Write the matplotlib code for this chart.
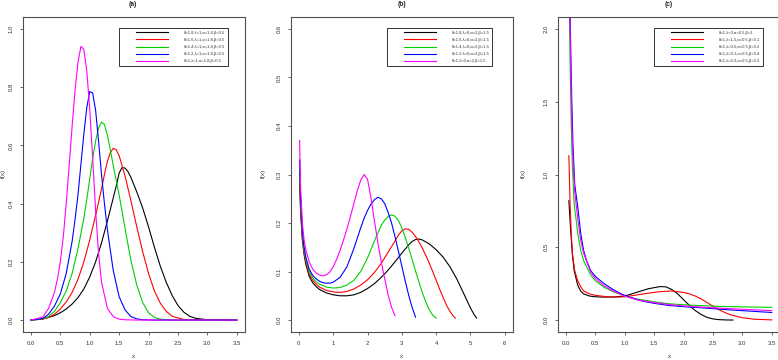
import matplotlib
matplotlib.use("Agg")
import matplotlib.pyplot as plt
from matplotlib.legend_handler import HandlerLine2D

plt.rcParams["font.family"] = ["Liberation Sans", "DejaVu Sans"]

colors = ["black", "red", "#00d000", "blue", "magenta"]

# ---- panel (a)
a_labels = ["θ=1.8,λ=1,α=1.8,β=0.5", "θ=1.6,λ=1,α=1.8,β=0.5", "θ=1.4,λ=1,α=1.8,β=0.5",
            "θ=1.2,λ=1,α=1.8,β=0.5", "θ=1,λ=1,α=1.8,β=0.5"]
a_x_black = [0, 0.2, 0.4, 0.5, 0.6, 0.7, 0.8, 0.9, 1.0, 1.1, 1.2, 1.3, 1.4, 1.45, 1.5, 1.55, 1.6,
             1.65, 1.7, 1.8, 1.9, 2.0, 2.1, 2.2, 2.3, 2.4, 2.5, 2.6, 2.7, 2.8, 3.0, 3.5]
a_y_black = [0, 0.004, 0.015, 0.025, 0.038, 0.055, 0.077, 0.107, 0.148, 0.2, 0.265, 0.34, 0.42, 0.46,
             0.505, 0.524, 0.522, 0.51, 0.49, 0.44, 0.385, 0.32, 0.25, 0.185, 0.13, 0.085, 0.05,
             0.027, 0.013, 0.006, 0.001, 0]
a_x_red = [0, 0.2, 0.3, 0.4, 0.5, 0.6, 0.7, 0.8, 0.9, 1.0, 1.1, 1.2, 1.25, 1.3, 1.35, 1.4, 1.45, 1.5,
           1.6, 1.7, 1.8, 1.9, 2.0, 2.1, 2.2, 2.3, 2.4, 2.6, 3.5]
a_y_red = [0, 0.003, 0.009, 0.02, 0.038, 0.062, 0.095, 0.14, 0.2, 0.275, 0.36, 0.45, 0.5, 0.545, 0.575,
           0.59, 0.585, 0.565, 0.495, 0.41, 0.32, 0.235, 0.16, 0.1, 0.058, 0.03, 0.013, 0.002, 0]
a_x_green = [0, 0.2, 0.3, 0.4, 0.5, 0.6, 0.7, 0.8, 0.9, 0.95, 1.0, 1.05, 1.1, 1.15, 1.2, 1.25, 1.3,
             1.35, 1.4, 1.5, 1.6, 1.7, 1.8, 1.9, 2.0, 2.1, 2.2, 2.4, 3.5]
a_y_green = [0, 0.004, 0.012, 0.03, 0.06, 0.1, 0.16, 0.245, 0.35, 0.415, 0.485, 0.555, 0.615, 0.66,
             0.68, 0.672, 0.635, 0.585, 0.53, 0.43, 0.315, 0.205, 0.12, 0.06, 0.025, 0.009, 0.003, 0, 0]
a_x_blue = [0, 0.2, 0.3, 0.4, 0.5, 0.6, 0.7, 0.75, 0.8, 0.85, 0.9, 0.95, 1.0, 1.05, 1.1, 1.15, 1.2,
            1.25, 1.3, 1.4, 1.5, 1.6, 1.7, 1.8, 1.9, 2.1, 3.5]
a_y_blue = [0, 0.005, 0.02, 0.048, 0.09, 0.16, 0.27, 0.345, 0.43, 0.535, 0.64, 0.73, 0.785, 0.78,
            0.72, 0.615, 0.5, 0.4, 0.31, 0.17, 0.08, 0.035, 0.012, 0.004, 0.001, 0, 0]
a_x_magenta = [0, 0.2, 0.3, 0.4, 0.45, 0.5, 0.55, 0.6, 0.65, 0.7, 0.75, 0.8, 0.85, 0.9, 0.95, 1.0,
               1.05, 1.1, 1.15, 1.2, 1.3, 1.4, 1.5, 1.6, 1.8, 3.5]
a_y_magenta = [0, 0.01, 0.04, 0.095, 0.14, 0.2, 0.285, 0.4, 0.53, 0.665, 0.79, 0.885, 0.94, 0.93,
               0.855, 0.725, 0.555, 0.375, 0.23, 0.13, 0.04, 0.012, 0.003, 0.001, 0, 0]
a_xticks = [0.0, 0.5, 1.0, 1.5, 2.0, 2.5, 3.0, 3.5]
a_yticks = [0.0, 0.2, 0.4, 0.6, 0.8, 1.0]

# ---- panel (b)
b_labels = ["θ=1.8,λ=0,α=2,β=1.5", "θ=1.6,λ=0,α=2,β=1.5", "θ=1.4,λ=0,α=2,β=1.5",
            "θ=1.2,λ=0,α=2,β=1.5", "θ=1,λ=0,α=2,β=1.5"]
b_x_black = [0.02, 0.05, 0.1, 0.15, 0.2, 0.3, 0.4, 0.5, 0.6, 0.8, 1.0, 1.2, 1.4, 1.6, 1.8, 2.0, 2.2,
             2.4, 2.6, 2.8, 3.0, 3.2, 3.3, 3.4, 3.5, 3.6, 3.8, 4.0, 4.2, 4.4, 4.6, 4.8, 5.0, 5.1, 5.18]
b_y_black = [0.28, 0.22, 0.165, 0.135, 0.115, 0.09, 0.077, 0.069, 0.063, 0.056, 0.052, 0.05, 0.05,
             0.052, 0.057, 0.065, 0.075, 0.088, 0.103, 0.12, 0.138, 0.155, 0.162, 0.166, 0.167, 0.165,
             0.157, 0.145, 0.13, 0.11, 0.085, 0.055, 0.025, 0.012, 0.004]
b_x_red = [0.02, 0.05, 0.1, 0.15, 0.2, 0.3, 0.4, 0.5, 0.6, 0.8, 1.0, 1.2, 1.4, 1.6, 1.8, 2.0, 2.2, 2.4,
           2.6, 2.8, 2.9, 3.0, 3.1, 3.2, 3.3, 3.4, 3.5, 3.6, 3.7, 3.8, 3.9, 4.0, 4.1, 4.2, 4.3, 4.4,
           4.5, 4.56]
b_y_red = [0.3, 0.23, 0.17, 0.14, 0.12, 0.095, 0.082, 0.074, 0.068, 0.061, 0.058, 0.057, 0.059, 0.064,
           0.072, 0.083, 0.098, 0.117, 0.14, 0.163, 0.175, 0.184, 0.188, 0.187, 0.181, 0.172, 0.161,
           0.148, 0.133, 0.117, 0.1, 0.082, 0.064, 0.047, 0.031, 0.018, 0.008, 0.004]
b_x_green = [0.02, 0.05, 0.1, 0.15, 0.2, 0.3, 0.4, 0.5, 0.6, 0.8, 1.0, 1.2, 1.4, 1.6, 1.8, 2.0, 2.2,
             2.4, 2.5, 2.6, 2.7, 2.8, 2.9, 3.0, 3.1, 3.2, 3.3, 3.4, 3.5, 3.6, 3.7, 3.8, 3.9, 4.0]
b_y_green = [0.31, 0.24, 0.18, 0.145, 0.125, 0.1, 0.087, 0.079, 0.074, 0.068, 0.066, 0.067, 0.072,
             0.082, 0.1, 0.128, 0.163, 0.195, 0.206, 0.213, 0.217, 0.214, 0.205, 0.19, 0.17, 0.148,
             0.125, 0.101, 0.078, 0.056, 0.037, 0.021, 0.01, 0.004]
b_x_blue = [0.02, 0.05, 0.1, 0.15, 0.2, 0.3, 0.4, 0.5, 0.6, 0.7, 0.8, 0.9, 1.0, 1.2, 1.4, 1.6, 1.8, 1.9,
            2.0, 2.1, 2.2, 2.3, 2.4, 2.5, 2.6, 2.7, 2.8, 2.9, 3.0, 3.1, 3.2, 3.3, 3.4]
b_y_blue = [0.33, 0.25, 0.185, 0.15, 0.13, 0.105, 0.092, 0.085, 0.08, 0.077, 0.076, 0.076, 0.078,
            0.088, 0.11, 0.147, 0.19, 0.21, 0.226, 0.239, 0.248, 0.253, 0.25, 0.24, 0.222, 0.2, 0.172,
            0.142, 0.111, 0.08, 0.051, 0.026, 0.006]
b_x_magenta = [0.02, 0.05, 0.1, 0.15, 0.2, 0.3, 0.4, 0.5, 0.6, 0.7, 0.8, 0.9, 1.0, 1.1, 1.2, 1.3, 1.4,
               1.5, 1.6, 1.7, 1.8, 1.9, 2.0, 2.1, 2.2, 2.3, 2.4, 2.5, 2.6, 2.7, 2.8]
b_y_magenta = [0.37, 0.27, 0.2, 0.165, 0.145, 0.12, 0.105, 0.097, 0.093, 0.091, 0.093, 0.099, 0.11,
               0.125, 0.144, 0.165, 0.188, 0.213, 0.24, 0.266, 0.288, 0.3, 0.29, 0.252, 0.205, 0.16,
               0.12, 0.085, 0.052, 0.026, 0.009]
b_xticks = [0, 1, 2, 3, 4, 5, 6]
b_yticks = [0.0, 0.1, 0.2, 0.3, 0.4, 0.5, 0.6]

# ---- panel (c)
c_labels = ["θ=1,λ=0,α=0.5,β=1", "θ=1,λ=1.5,α=0.5,β=0.1", "θ=1,λ=0.5,α=0.5,β=0.2",
            "θ=1,λ=0.1,α=0.5,β=0.4", "θ=1,λ=0.3,α=0.5,β=0.3"]
c_x_black = [0.05, 0.08, 0.11, 0.14, 0.2, 0.25, 0.3, 0.4, 0.5, 0.6, 0.8, 1.0, 1.2, 1.4, 1.6, 1.7, 1.8,
             1.9, 2.0, 2.1, 2.2, 2.3, 2.4, 2.5, 2.6, 2.7, 2.84]
c_y_black = [0.82, 0.62, 0.45, 0.34, 0.24, 0.2, 0.18, 0.165, 0.16, 0.158, 0.158, 0.165, 0.19, 0.215,
             0.23, 0.228, 0.21, 0.18, 0.14, 0.1, 0.065, 0.038, 0.018, 0.008, 0.003, 0.001, 0]
c_x_red = [0.05, 0.07, 0.09, 0.11, 0.15, 0.2, 0.25, 0.3, 0.4, 0.5, 0.7, 0.9, 1.0, 1.2, 1.4, 1.6, 1.8,
           2.0, 2.1, 2.2, 2.3, 2.4, 2.5, 2.6, 2.7, 2.8, 3.0, 3.2, 3.5]
c_y_red = [1.13, 0.8, 0.6, 0.46, 0.34, 0.27, 0.23, 0.2, 0.18, 0.17, 0.16, 0.158, 0.16, 0.172, 0.185,
           0.195, 0.2, 0.19, 0.18, 0.165, 0.145, 0.12, 0.095, 0.072, 0.052, 0.036, 0.016, 0.006, 0.001]
c_x_green = [0.05, 0.07, 0.09, 0.11, 0.14, 0.2, 0.25, 0.3, 0.42, 0.5, 0.65, 0.8, 1.0, 1.2, 1.5, 1.75,
             2.0, 2.35, 2.7, 3.1, 3.5]
c_y_green = [2.4, 1.8, 1.35, 1.05, 0.8, 0.6, 0.48, 0.41, 0.31, 0.27, 0.225, 0.195, 0.165, 0.145, 0.125,
             0.112, 0.105, 0.098, 0.093, 0.09, 0.087]
c_x_blue = [0.06, 0.08, 0.1, 0.12, 0.15, 0.2, 0.25, 0.3, 0.35, 0.42, 0.5, 0.65, 0.8, 0.94, 1.1, 1.3,
            1.5, 1.75, 2.0, 2.35, 2.7, 3.1, 3.5]
c_y_blue = [2.4, 1.9, 1.5, 1.2, 0.93, 0.78, 0.6, 0.48, 0.41, 0.34, 0.3, 0.25, 0.21, 0.18, 0.155, 0.13,
            0.115, 0.1, 0.092, 0.083, 0.072, 0.062, 0.052]
c_x_magenta = [0.06, 0.08, 0.1, 0.12, 0.15, 0.2, 0.25, 0.3, 0.42, 0.5, 0.65, 0.8, 1.0, 1.2, 1.5, 1.75,
               2.0, 2.35, 2.7, 3.1, 3.5]
c_y_magenta = [2.3, 1.75, 1.35, 1.1, 0.88, 0.7, 0.55, 0.46, 0.33, 0.285, 0.235, 0.2, 0.165, 0.14, 0.12,
               0.107, 0.097, 0.088, 0.08, 0.072, 0.065]
c_xticks = [0.0, 0.5, 1.0, 1.5, 2.0, 2.5, 3.0, 3.5]
c_yticks = [0.0, 0.5, 1.0, 1.5, 2.0]

W, H = 778, 360
fig = plt.figure(figsize=(W / 100, H / 100), dpi=100)
frame_col = "#505050"


def panel(left, xs, ys, labels, xlim, ylim, xticks, yticks, xfmt, yfmt):
    ax = fig.add_axes([left / W, 1 - 331.7 / H, 222.3 / W, 314.4 / H])
    for x, y, c, lab in zip(xs, ys, colors, labels):
        ax.plot(x, y, color=c, lw=0.8, label=lab)
    ax.set_xlim(*xlim)
    ax.set_ylim(*ylim)
    ax.set_xticks(xticks, [xfmt.format(v) for v in xticks])
    ax.set_yticks(yticks, [yfmt.format(v) for v in yticks])
    ax.tick_params(axis="both", length=2.4, width=0.6, color=frame_col, labelsize=4.3,
                   labelcolor="#333333", pad=4)
    for lab in ax.get_yticklabels():
        lab.set_rotation(90)
        lab.set_va("center")
    for s in ax.spines.values():
        s.set_color(frame_col)
        s.set_linewidth(0.8)
    leg = ax.legend(loc="upper left", bbox_to_anchor=(0.435, 0.965), borderaxespad=0,
                    fontsize=3, frameon=True, fancybox=False, edgecolor="#333333",
                    framealpha=1, borderpad=0.6, handlelength=14.3, handletextpad=0.55,
                    labelspacing=0.75, numpoints=2,
                    handler_map={plt.Line2D: HandlerLine2D(marker_pad=3.3, numpoints=2)})
    leg.get_frame().set_linewidth(0.7)
    for t in leg.get_texts():
        t.set_color("#333333")
    return ax


panel(22.7,
      [a_x_black, a_x_red, a_x_green, a_x_blue, a_x_magenta],
      [a_y_black, a_y_red, a_y_green, a_y_blue, a_y_magenta],
      a_labels, (-0.14, 3.64), (-0.04, 1.04), a_xticks, a_yticks, "{:.1f}", "{:.1f}")
panel(290.7,
      [b_x_black, b_x_red, b_x_green, b_x_blue, b_x_magenta],
      [b_y_black, b_y_red, b_y_green, b_y_blue, b_y_magenta],
      b_labels, (-0.24, 6.24), (-0.024, 0.624), b_xticks, b_yticks, "{:d}", "{:.1f}")
panel(557.7,
      [c_x_black, c_x_red, c_x_green, c_x_blue, c_x_magenta],
      [c_y_black, c_y_red, c_y_green, c_y_blue, c_y_magenta],
      c_labels, (-0.14, 3.64), (-0.08, 2.08), c_xticks, c_yticks, "{:.1f}", "{:.1f}")

# titles and axis labels
for cx, title in [(133, "(a)"), (401.7, "(b)"), (669, "(c)")]:
    fig.text(cx / W, 1 - 5 / H, title, ha="center", va="center", fontsize=4.8,
             fontweight="bold", color="#222222")
    fig.text(cx / W, 1 - 356 / H, "x", ha="center", va="center", fontsize=4.5, color="#333333")
for lx in [3.5, 263, 523]:
    fig.text(lx / W, 1 - 173 / H, "f(x)", ha="center", va="center", rotation=90,
             fontsize=4.5, color="#333333")

fig.savefig("out.png", dpi=100)
